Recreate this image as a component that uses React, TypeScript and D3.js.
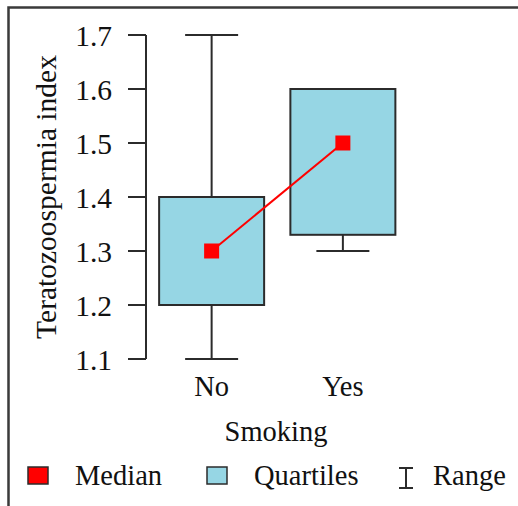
import React from "react";
import * as d3 from "d3";

// values
const groups = ["No", "Yes"];
const medians = [1.3, 1.5];
const lowerQuartiles = [1.2, 1.33];
const upperQuartiles = [1.4, 1.6];
const minimums = [1.1, 1.3];
const maximums = [1.7, 1.6];
const yTicks = [1.1, 1.2, 1.3, 1.4, 1.5, 1.6, 1.7];
const legendLabels = ["Median", "Quartiles", "Range"];

const W = 518;
const H = 506;
const FONT = "'Liberation Serif', 'Times New Roman', serif";
const INK = "#2b2b2b";
const BOX_FILL = "#96d6e4";
const RED = "#ff0000";

const App = () => {
  const axisX = 146;

  const y = d3.scaleLinear().domain([1.1, 1.7]).range([359, 35]);
  const x = d3.scalePoint<string>().domain(groups).range([axisX, 408.5]).padding(0.5);

  const boxHalf = 52.5;
  const capHalf = 26.5;
  const markHalf = 7.5;

  const medianLine = d3
    .line<number>()
    .x((_, i) => x(groups[i]) as number)
    .y((d) => y(d));

  return (
    <div style={{ position: "fixed", left: 0, top: 0 }}>
      <svg width={W} height={H} style={{ display: "block", background: "#fff" }}>
        {/* frame */}
        <path d={`M8.5,${H} V7.5 H${W}`} fill="none" stroke="#3a3a3a" strokeWidth={2.5} />

        {/* y axis */}
        <line x1={axisX} x2={axisX} y1={y(1.1)} y2={y(1.7)} stroke={INK} strokeWidth={2} />
        {yTicks.map((t) => (
          <g key={t}>
            <line x1={axisX - 18} x2={axisX} y1={y(t)} y2={y(t)} stroke={INK} strokeWidth={2} />
            <text
              x={112}
              y={y(t)}
              dy="0.36em"
              textAnchor="end"
              fontFamily={FONT}
              fontSize={29.5}
              fill="#111"
            >
              {t.toFixed(1)}
            </text>
          </g>
        ))}
        <text
          transform={`translate(56,${(y(1.1) + y(1.7)) / 2}) rotate(-90)`}
          textAnchor="middle"
          fontFamily={FONT}
          fontSize={29.5}
          fill="#111"
        >
          Teratozoospermia index
        </text>

        {/* whiskers + boxes */}
        {groups.map((g, i) => {
          const cx = x(g) as number;
          return (
            <g key={g}>
              <line x1={cx} x2={cx} y1={y(maximums[i])} y2={y(minimums[i])} stroke={INK} strokeWidth={2} />
              <line x1={cx - capHalf} x2={cx + capHalf} y1={y(maximums[i])} y2={y(maximums[i])} stroke={INK} strokeWidth={2} />
              <line x1={cx - capHalf} x2={cx + capHalf} y1={y(minimums[i])} y2={y(minimums[i])} stroke={INK} strokeWidth={2} />
              <rect
                x={cx - boxHalf}
                y={y(upperQuartiles[i])}
                width={boxHalf * 2}
                height={y(lowerQuartiles[i]) - y(upperQuartiles[i])}
                fill={BOX_FILL}
                stroke={INK}
                strokeWidth={2}
              />
              <text
                x={cx}
                y={396}
                textAnchor="middle"
                fontFamily={FONT}
                fontSize={28.5}
                fill="#111"
              >
                {g}
              </text>
            </g>
          );
        })}

        {/* medians */}
        <path d={medianLine(medians) || ""} fill="none" stroke={RED} strokeWidth={2} />
        {medians.map((m, i) => (
          <rect
            key={i}
            x={(x(groups[i]) as number) - markHalf}
            y={y(m) - markHalf}
            width={markHalf * 2}
            height={markHalf * 2}
            fill={RED}
          />
        ))}

        <text x={276} y={441} textAnchor="middle" fontFamily={FONT} fontSize={28.5} fill="#111">
          Smoking
        </text>

        {/* legend */}
        <g fontFamily={FONT} fontSize={28.5} fill="#111">
          <rect x={28} y={467} width={20} height={17} fill={RED} stroke={INK} strokeWidth={1.5} />
          <text x={75} y={485}>{legendLabels[0]}</text>
          <rect x={207} y={467} width={20} height={17} fill={BOX_FILL} stroke={INK} strokeWidth={1.5} />
          <text x={254} y={485}>{legendLabels[1]}</text>
          <g stroke={INK} strokeWidth={2}>
            <line x1={406} x2={406} y1={468} y2={488} />
            <line x1={399} x2={413} y1={468} y2={468} />
            <line x1={399} x2={413} y1={488} y2={488} />
          </g>
          <text x={433} y={485}>{legendLabels[2]}</text>
        </g>
      </svg>
    </div>
  );
};

export default App;
